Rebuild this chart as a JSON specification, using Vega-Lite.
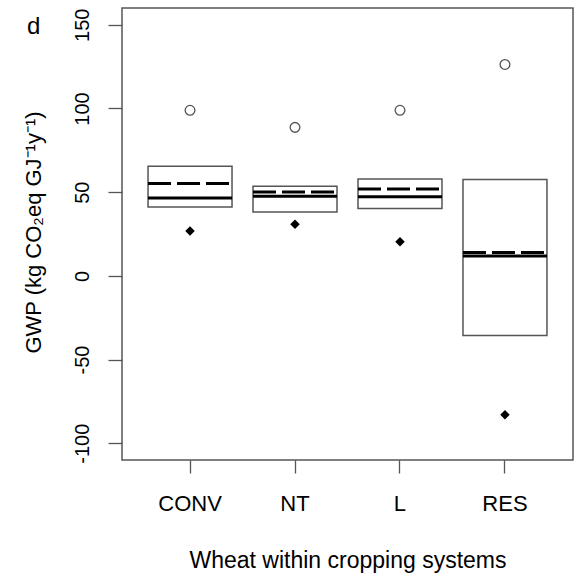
{
  "$schema": "https://vega.github.io/schema/vega-lite/v6.json",
  "width": 451,
  "height": 452,
  "autosize": "none",
  "padding": {"left": 122, "top": 8, "right": 7, "bottom": 124},
  "background": "white",
  "title": {"text": "d", "anchor": "start", "frame": "group", "fontSize": 24, "fontWeight": "normal", "font": "Liberation Sans", "color": "black", "baseline": "alphabetic", "dx": -95, "offset": 0, "dy": 50},
  "data": {"values": [
    {"system": "CONV", "lo": 41.1, "hi": 65.4, "median": 46.5, "mean": 55.1, "circle": 98.9, "diamond": 26.8},
    {"system": "NT", "lo": 38.1, "hi": 53.5, "median": 47.5, "mean": 50.1, "circle": 88.7, "diamond": 30.8},
    {"system": "L", "lo": 40.3, "hi": 57.8, "median": 47.3, "mean": 51.9, "circle": 98.9, "diamond": 20.4},
    {"system": "RES", "lo": -35.7, "hi": 57.5, "median": 11.8, "mean": 13.9, "circle": 126.3, "diamond": -82.9}
  ]},
  "encoding": {
    "x": {"field": "system", "type": "nominal", "sort": ["CONV", "NT", "L", "RES"],
      "scale": {"paddingInner": 0, "paddingOuter": 0.148},
      "axis": {"title": "Wheat within cropping systems", "labelAngle": 0, "tickSize": 13, "labelFontSize": 22, "labelBaseline": "alphabetic", "labelPadding": 37, "titleFontSize": 23, "titleBaseline": "alphabetic", "titleY": 107}}
  },
  "layer": [
    {"mark": {"type": "bar", "fill": "white", "stroke": "#555555", "strokeWidth": 1.5, "width": {"band": 0.8}},
     "encoding": {
       "y": {"field": "lo", "type": "quantitative",
         "scale": {"domain": [-110, 160], "nice": false, "zero": false},
         "axis": {"title": "GWP (kg CO₂eq GJ⁻¹y⁻¹)", "values": [-100, -50, 0, 50, 100, 150], "labelExpr": "'' + datum.value", "tickSize": 14, "labelAngle": 270, "labelAlign": "center", "labelBaseline": "alphabetic", "labelPadding": 20, "labelFontSize": 20, "titleFontSize": 22, "titleBaseline": "alphabetic", "titleX": -82, "titleY": 224}},
       "y2": {"field": "hi"}
     }},
    {"mark": {"type": "rule", "color": "black", "strokeWidth": 3, "xOffset": -42, "x2Offset": 42},
     "encoding": {"x2": {"field": "system"}, "y": {"field": "median", "type": "quantitative"}}},
    {"mark": {"type": "rule", "color": "black", "strokeWidth": 3, "strokeDash": [23, 6], "xOffset": -42, "x2Offset": 42},
     "encoding": {"x2": {"field": "system"}, "y": {"field": "mean", "type": "quantitative"}}},
    {"mark": {"type": "point", "shape": "circle", "filled": false, "stroke": "#555555", "strokeWidth": 1.3, "size": 95, "opacity": 1},
     "encoding": {"y": {"field": "circle", "type": "quantitative"}}},
    {"mark": {"type": "point", "shape": "diamond", "filled": true, "fill": "black", "size": 90, "opacity": 1, "strokeWidth": 0},
     "encoding": {"y": {"field": "diamond", "type": "quantitative"}}}
  ],
  "config": {
    "view": {"stroke": "#555555", "strokeWidth": 1.5},
    "axis": {"labelFont": "Liberation Sans", "titleFont": "Liberation Sans", "labelColor": "black", "titleColor": "black", "tickColor": "#555555", "tickWidth": 1.3, "domain": false, "grid": false, "titleFontWeight": "normal"}
  }
}
